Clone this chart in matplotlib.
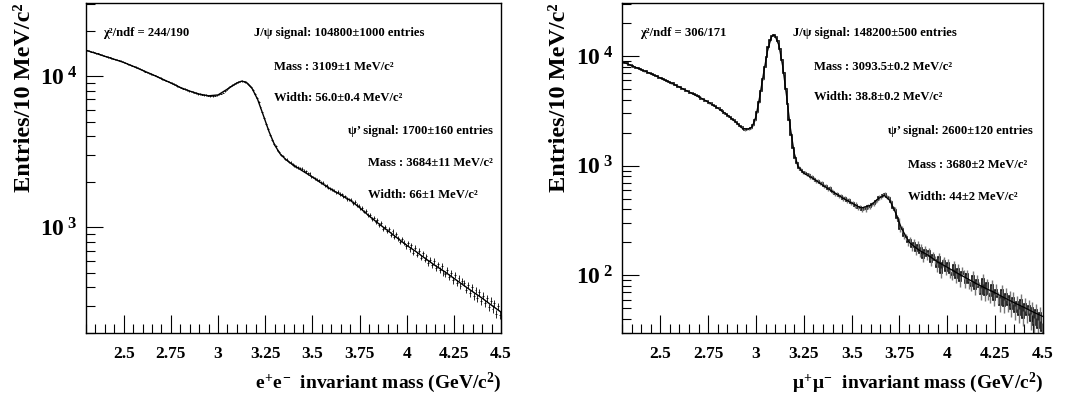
import numpy as np
import matplotlib.pyplot as plt
from matplotlib.ticker import FixedLocator, LogLocator, NullFormatter, MultipleLocator

plt.rcParams['font.family'] = ['Liberation Serif', 'DejaVu Serif']
plt.rcParams['font.weight'] = 'bold'
plt.rcParams['axes.labelweight'] = 'bold'
plt.rcParams['mathtext.fontset'] = 'custom'
plt.rcParams['mathtext.rm'] = 'Liberation Serif:bold'
plt.rcParams['mathtext.it'] = 'Liberation Serif:bold'
plt.rcParams['mathtext.bf'] = 'Liberation Serif:bold'

# 10 MeV bins from 2.3 to 4.5 GeV
edges = np.linspace(2.3, 4.5, 221)
centers = 0.5 * (edges[:-1] + edges[1:])

# e+e- channel: entries per bin
ee_counts = [
    14760, 14680, 14520, 14470, 14350, 14160, 14120, 13930, 13850, 13620,
    13480, 13360, 13290, 13140, 13050, 12900, 12830, 12680, 12600, 12420,
    12260, 12120, 11990, 11860, 11720, 11580, 11470, 11330, 11170, 11020,
    10860, 10700, 10600, 10430, 10320, 10190, 10090, 9930, 9830, 9690,
    9560, 9460, 9310, 9210, 9080, 8970, 8850, 8750, 8610, 8500,
    8370, 8270, 8200, 8080, 7990, 7930, 7850, 7770, 7700, 7630,
    7590, 7540, 7500, 7480, 7430, 7400, 7410, 7390, 7430, 7460,
    7560, 7640, 7780, 7920, 8120, 8330, 8540, 8720, 8880, 9020,
    9130, 9230, 9280, 9240, 9140, 8930, 8700, 8450, 8100, 7650,
    7200, 6750, 6250, 5750, 5250, 4820, 4450, 4100, 3800, 3560,
    3430, 3250, 3160, 3010, 2950, 2830, 2800, 2700, 2680, 2590,
    2570, 2520, 2490, 2460, 2440, 2370, 2350, 2280, 2270, 2170,
    2150, 2110, 2060, 2040, 1980, 1970, 1900, 1890, 1830, 1810,
    1790, 1740, 1700, 1720, 1660, 1650, 1590, 1600, 1540, 1530,
    1520, 1450, 1470, 1400, 1390, 1330, 1340, 1270, 1280, 1200,
    1200, 1130, 1160, 1090, 1110, 1040, 1070, 980, 1010, 950,
    975, 895, 940, 860, 900, 845, 800, 840, 790, 750,
    785, 715, 760, 680, 735, 660, 700, 630, 675, 610,
    645, 580, 610, 560, 600, 540, 570, 520, 555, 500,
    490, 525, 470, 500, 445, 485, 430, 465, 410, 440,
    430, 385, 415, 365, 400, 350, 385, 340, 372, 325,
    352, 315, 340, 295, 328, 288, 315, 268, 300, 262,
]

# e+e- fit curve samples
ee_fit_x = [2.30, 2.35, 2.40, 2.45, 2.50, 2.55, 2.60, 2.65, 2.70, 2.75, 2.80, 2.85,
            2.90, 2.95, 3.00, 3.05, 3.10, 3.125, 3.15, 3.18, 3.21, 3.24, 3.27, 3.30,
            3.33, 3.36, 3.40, 3.45, 3.50, 3.55, 3.60, 3.65, 3.70, 3.75, 3.80, 3.85,
            3.90, 3.95, 4.00, 4.05, 4.10, 4.15, 4.20, 4.25, 4.30, 4.35, 4.40, 4.45, 4.50]
ee_fit_y = [14800, 14150, 13500, 12900, 12300, 11600, 10900, 10250, 9600, 9000, 8400, 7950,
            7600, 7400, 7500, 8200, 9000, 9250, 9100, 8300, 7000, 5500, 4300, 3500,
            3050, 2800, 2570, 2350, 2150, 1950, 1780, 1640, 1510, 1350, 1190, 1060,
            950, 850, 760, 690, 620, 560, 510, 460, 415, 375, 340, 305, 275]

# mu+mu- channel: entries per bin
mm_counts = [
    8850, 8630, 8560, 8350, 8270, 8080, 7990, 7810, 7730, 7540,
    7460, 7290, 7230, 7050, 6990, 6810, 6750, 6580, 6510, 6330,
    6270, 6110, 6060, 5890, 5840, 5670, 5620, 5450, 5400, 5230,
    5170, 5020, 4980, 4820, 4790, 4630, 4600, 4450, 4420, 4270,
    4230, 4090, 4060, 3910, 3880, 3730, 3700, 3550, 3520, 3380,
    3330, 3190, 3160, 3010, 2980, 2830, 2800, 2650, 2620, 2480,
    2410, 2300, 2240, 2160, 2120, 2150, 2140, 2210, 2340, 2620,
    3080, 3770, 4830, 6170, 7950, 9850, 12050, 13850, 15250, 15450,
    14950, 13550, 11550, 9150, 6950, 4950, 3620, 2580, 1920, 1440,
    1170, 1050, 950, 920, 870, 860, 830, 825, 790, 785,
    755, 725, 720, 690, 690, 650, 655, 615, 620, 585,
    575, 550, 555, 525, 530, 500, 505, 480, 485, 455,
    455, 430, 440, 410, 420, 395, 410, 400, 425, 420,
    445, 450, 478, 485, 512, 515, 538, 545, 520, 505,
    465, 410, 395, 335, 315, 265, 262, 228, 225, 200,
    210, 180, 198, 165, 190, 158, 178, 145, 170, 150,
    165, 132, 152, 138, 118, 146, 105, 130, 135, 110,
    130, 104, 100, 124, 95, 115, 88, 108, 102, 85,
    102, 84, 80, 99, 75, 90, 78, 68, 92, 66,
    84, 68, 64, 82, 60, 74, 63, 54, 73, 52,
    68, 54, 64, 49, 62, 46, 57, 43, 60, 41,
    55, 43, 52, 38, 50, 35, 48, 33, 45, 31,
]

mm_fit_x = [2.30, 2.35, 2.40, 2.45, 2.50, 2.55, 2.60, 2.65, 2.70, 2.75, 2.80, 2.85,
            2.90, 2.93, 2.96, 2.98, 3.00, 3.02, 3.04, 3.06, 3.08, 3.09, 3.10, 3.12,
            3.14, 3.16, 3.18, 3.20, 3.22, 3.25, 3.30, 3.35, 3.40, 3.45, 3.50, 3.55,
            3.60, 3.64, 3.67, 3.70, 3.73, 3.76, 3.80, 3.85, 3.90, 3.95, 4.00, 4.05,
            4.10, 4.15, 4.20, 4.25, 4.30, 4.35, 4.40, 4.45, 4.50]
mm_fit_y = [8900, 8150, 7500, 6900, 6300, 5750, 5200, 4700, 4250, 3800, 3350, 2900,
            2450, 2180, 2150, 2250, 2800, 4300, 7000, 11000, 14800, 15500, 15200, 12500,
            8000, 4300, 2200, 1300, 980, 850, 760, 660, 580, 510, 455, 410,
            435, 500, 535, 480, 370, 270, 200, 170, 152, 132, 118, 105,
            94, 84, 76, 69, 62, 56, 51, 46, 42]

ee_text = ["\u03c7\u00b2/ndf = 244/190", "J/\u03c8 signal: 104800\u00b11000 entries",
           "Mass : 3109\u00b11 MeV/c\u00b2", "Width: 56.0\u00b10.4 MeV/c\u00b2",
           "\u03c8\u2019 signal: 1700\u00b1160 entries", "Mass : 3684\u00b111 MeV/c\u00b2",
           "Width: 66\u00b11 MeV/c\u00b2"]
mm_text = ["\u03c7\u00b2/ndf = 306/171", "J/\u03c8 signal: 148200\u00b1500 entries",
           "Mass : 3093.5\u00b10.2 MeV/c\u00b2", "Width: 38.8\u00b10.2 MeV/c\u00b2",
           "\u03c8\u2019 signal: 2600\u00b1120 entries", "Mass : 3680\u00b12 MeV/c\u00b2",
           "Width: 44\u00b12 MeV/c\u00b2"]

W, H = 1073, 400
fig = plt.figure(figsize=(W / 100, H / 100), dpi=100)
ax1 = fig.add_axes([86 / W, 67 / H, 415 / W, 330 / H])
ax2 = fig.add_axes([622 / W, 67 / H, 421 / W, 330 / H])

# left: error bars only
ee = np.array(ee_counts, dtype=float)
ax1.errorbar(centers, ee, xerr=0.005, yerr=np.sqrt(ee), fmt='none',
             ecolor='black', elinewidth=0.6)
ax1.plot(ee_fit_x, ee_fit_y, color='black', lw=1.0)

# right: dense histogram with grey errors
mm = np.array(mm_counts, dtype=float)
ax2.errorbar(centers, mm, yerr=np.sqrt(mm), fmt='none', ecolor='#777777', elinewidth=1.0)
ax2.stairs(mm, edges, color='black', lw=1.2)
ax2.plot(mm_fit_x, mm_fit_y, color='black', lw=0.9)

ax1.set_ylim(200, 30400)
ax2.set_ylim(29.7, 30400)
ax1.set_xlabel(r"$e^{+}e^{-}$  invariant mass (GeV/c$^{2}$)", fontsize=14,
               fontweight='bold', loc='right')
ax2.set_xlabel(r"$\mu^{+}\mu^{-}$  invariant mass (GeV/c$^{2}$)", fontsize=14,
               fontweight='bold', loc='right')

for ax, majors in ((ax1, [1e3, 1e4]), (ax2, [1e2, 1e3, 1e4])):
    ax.set_yscale('log')
    ax.set_xlim(2.3, 4.5)
    ax.yaxis.set_major_locator(FixedLocator(majors))
    ax.set_yticklabels([r"$\mathbf{10^{\;%d}}$" % int(np.log10(m)) for m in majors], fontsize=17)
    ax.yaxis.set_minor_locator(LogLocator(subs=np.arange(2, 10)))
    ax.yaxis.set_minor_formatter(NullFormatter())
    ax.set_xticks([2.5, 2.75, 3.0, 3.25, 3.5, 3.75, 4.0, 4.25, 4.5])
    ax.set_xticklabels(["2.5", "2.75", "3", "3.25", "3.5", "3.75", "4", "4.25", "4.5"],
                       fontsize=12.5, fontweight='bold')
    ax.xaxis.set_minor_locator(MultipleLocator(0.05))
    ax.tick_params(which='both', direction='in', top=False, right=False, width=0.8)
    ax.tick_params(axis='x', which='major', length=13, pad=9)
    ax.tick_params(axis='x', which='minor', length=6.5)
    ax.tick_params(axis='y', which='major', length=12, pad=6)
    ax.tick_params(axis='y', which='minor', length=6.5)
    ax.set_ylabel("Entries/10 MeV/c\u00b2", fontsize=17.5, fontweight='bold', loc='top')
    ax.yaxis.set_label_coords(-0.123, 1.0)
    ax.xaxis.set_label_coords(1.0, -0.115)
    for s in ax.spines.values():
        s.set_linewidth(1.0)

# annotation positions in pixels (left x, centre y)
ee_pos = [(103, 33), (254, 33), (274, 67), (274, 98), (348, 131), (368, 163), (368, 195)]
mm_pos = [(640, 33), (793, 33), (814, 67), (814, 97), (888, 131), (908, 165), (908, 197)]
for txt, (px, py) in list(zip(ee_text, ee_pos)) + list(zip(mm_text, mm_pos)):
    fig.text(px / W, 1 - py / H, txt, fontsize=9.1, fontweight='bold', va='center', ha='left')

fig.savefig("out.png", dpi=100)
